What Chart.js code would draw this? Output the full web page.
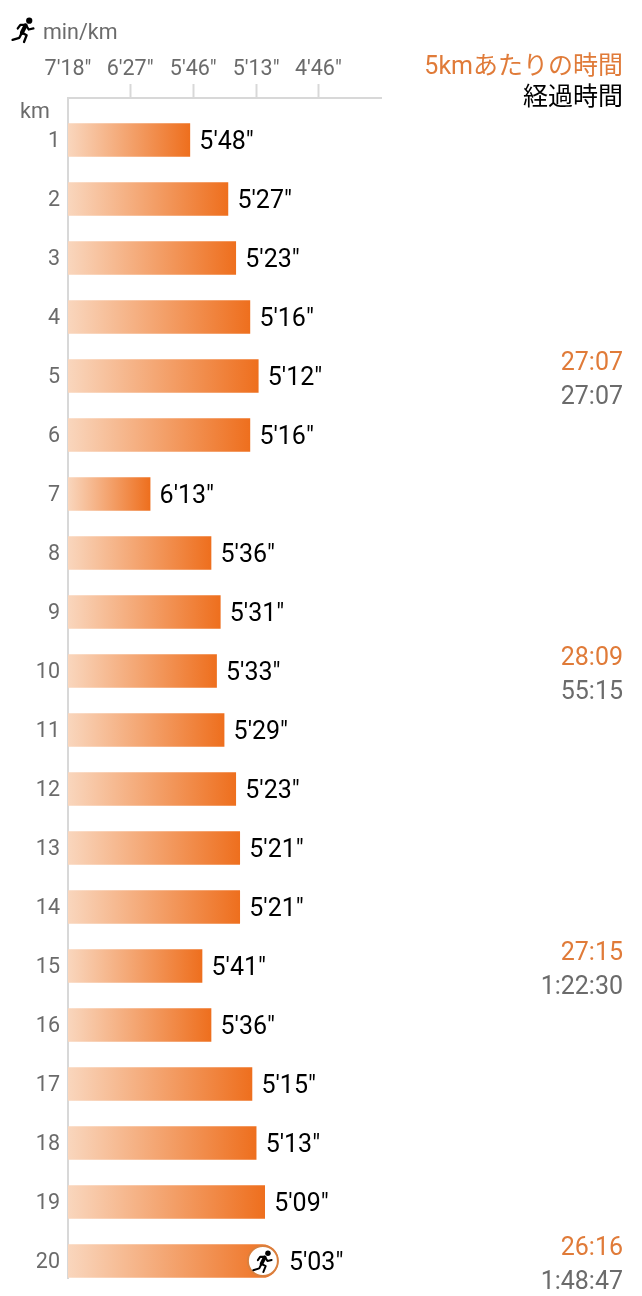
<!DOCTYPE html>
<html lang="ja">
<head>
<meta charset="utf-8">
<title>min/km</title>
<script src="https://cdn.jsdelivr.net/npm/chart.js@4"></script>
<style>
  html, body { margin: 0; padding: 0; background: #fff; }
  canvas { display: block; }
</style>
</head>
<body>
<canvas id="myChart" width="642" height="1296"></canvas>
<script>
const km_labels = [1, 2, 3, 4, 5, 6, 7, 8, 9, 10, 11, 12, 13, 14, 15, 16, 17, 18, 19, 20];
const pace_seconds = [348, 327, 323, 316, 312, 316, 373, 336, 331, 333, 329, 323, 321, 321, 341, 336, 315, 313, 309, 303];

const tick_seconds = [438, 387, 346, 313, 286];
const tick_labels = ["7'18\"", "6'27\"", "5'46\"", "5'13\"", "4'46\""];

const split_km = [5, 10, 15, 20];
const split_times = ['27:07', '28:09', '27:15', '26:16'];
const total_times = ['27:07', '55:15', '1:22:30', '1:48:47'];

const orange = '#e07b39';
const grey = '#6b6b6b';
const axis_grey = '#d8d8d8';
const font_family = 'Roboto, "Noto Sans CJK JP", sans-serif';

// the axis is linear in speed, not in pace
const to_speed = (seconds) => 1000 / seconds;

function format_pace(seconds) {
    const sec = seconds % 60;
    return Math.floor(seconds / 60) + "'" + (sec < 10 ? '0' : '') + sec + '"';
}

function draw_runner(ctx, x, y, size) {
    const s = size / 24;
    ctx.save();
    ctx.translate(x, y);
    ctx.scale(s, s);
    ctx.strokeStyle = '#000';
    ctx.fillStyle = '#000';
    ctx.lineCap = 'round';
    ctx.lineJoin = 'round';

    ctx.beginPath();
    ctx.arc(17.5, 3.5, 3, 0, Math.PI * 2);
    ctx.fill();

    ctx.lineWidth = 4;
    ctx.beginPath();
    ctx.moveTo(14, 8);
    ctx.lineTo(10.5, 15);
    ctx.stroke();

    ctx.lineWidth = 2.2;
    ctx.beginPath();
    ctx.moveTo(14, 7.5);
    ctx.lineTo(9, 7.5);
    ctx.lineTo(6.5, 11);
    ctx.moveTo(14.5, 8);
    ctx.lineTo(17, 12);
    ctx.lineTo(21.5, 11);
    ctx.moveTo(10.5, 15);
    ctx.lineTo(15, 17.5);
    ctx.lineTo(12.5, 24);
    ctx.moveTo(10.5, 15);
    ctx.lineTo(8, 20);
    ctx.lineTo(1.5, 22);
    ctx.stroke();
    ctx.restore();
}

const labels_plugin = {
    id: 'labels_plugin',
    afterDraw(chart) {
        const ctx = chart.ctx;
        const x_scale = chart.scales.x;
        const y_scale = chart.scales.y;
        ctx.save();

        // value labels at the bar ends
        ctx.font = '25px ' + font_family;
        ctx.fillStyle = '#000';
        ctx.textAlign = 'left';
        ctx.textBaseline = 'middle';
        pace_seconds.forEach((seconds, i) => {
            const last = i === pace_seconds.length - 1;
            const x = x_scale.getPixelForValue(to_speed(seconds)) + (last ? 11 : 9.5);
            ctx.fillText(format_pace(seconds), x, y_scale.getPixelForValue(km_labels[i]) + 3);
        });

        // marker on the last bar
        const last_index = pace_seconds.length - 1;
        const cx = x_scale.getPixelForValue(to_speed(pace_seconds[last_index])) - 15;
        const cy = y_scale.getPixelForValue(km_labels[last_index]);
        ctx.beginPath();
        ctx.arc(cx, cy, 15, 0, Math.PI * 2);
        ctx.fillStyle = '#fff';
        ctx.fill();
        ctx.lineWidth = 2;
        ctx.strokeStyle = '#d9803f';
        ctx.stroke();
        draw_runner(ctx, cx - 11, cy - 11, 22);

        // 5km splits on the right
        ctx.textAlign = 'right';
        ctx.font = '25px ' + font_family;
        split_km.forEach((km, i) => {
            const y = y_scale.getPixelForValue(km);
            ctx.fillStyle = orange;
            ctx.fillText(split_times[i], 623, y - 12);
            ctx.fillStyle = grey;
            ctx.fillText(total_times[i], 623, y + 22);
        });

        // headers
        ctx.font = '25px ' + font_family;
        ctx.fillStyle = orange;
        ctx.fillText('5kmあたりの時間', 623, 68);
        ctx.fillStyle = '#000';
        ctx.fillText('経過時間', 623, 99);

        ctx.textAlign = 'left';
        ctx.fillStyle = grey;
        ctx.font = '21.5px ' + font_family;
        ctx.fillText('min/km', 43, 34);
        ctx.fillText('km', 20, 113);
        draw_runner(ctx, 11, 17, 25);

        ctx.restore();
    }
};

const data = {
    datasets: [{
        data: pace_seconds.map((seconds, i) => ({ x: to_speed(seconds), y: km_labels[i] })),
        barThickness: 33,
        borderSkipped: false,
        borderRadius: (context) => context.dataIndex === pace_seconds.length - 1
            ? { topLeft: 0, bottomLeft: 0, topRight: 16, bottomRight: 16 } : 0,
        backgroundColor: (context) => {
            const { ctx, scales } = context.chart;
            const end = context.raw ? scales.x.getPixelForValue(context.raw.x) : NaN;
            // scales have no size yet on the first pass
            if (!isFinite(scales.x.left) || !isFinite(end)) return '#ee6f1e';
            const gradient = ctx.createLinearGradient(scales.x.left, 0, end, 0);
            gradient.addColorStop(0, '#f9d6bd');
            gradient.addColorStop(1, '#ee6f1e');
            return gradient;
        }
    }]
};

const options = {
    indexAxis: 'y',
    responsive: false,
    animation: false,
    layout: {
        padding: { left: 0, top: 0, right: 261, bottom: 18 }
    },
    scales: {
        x: {
            type: 'linear',
            position: 'top',
            min: to_speed(tick_seconds[0]),
            max: 3.8,
            afterBuildTicks: (scale) => {
                scale.ticks = tick_seconds.map((seconds) => ({ value: to_speed(seconds) }));
            },
            afterFit: (scale) => { scale.height = 98; },
            border: { color: axis_grey, width: 2 },
            grid: {
                drawOnChartArea: false,
                tickLength: 14,
                tickWidth: 2,
                tickColor: (context) => context.index === 0 ? 'rgba(0,0,0,0)' : axis_grey
            },
            ticks: {
                autoSkip: false,
                maxRotation: 0,
                padding: 1,
                color: grey,
                font: { family: font_family, size: 21.5 },
                callback: (value, index) => tick_labels[index]
            }
        },
        y: {
            type: 'linear',
            reverse: true,
            offset: false,
            min: 0.288,
            max: 20.288,
            afterBuildTicks: (scale) => {
                scale.ticks = km_labels.map((km) => ({ value: km }));
            },
            afterFit: (scale) => {
                scale.width = 68;
                // label margins would otherwise shrink the plot height
                scale.paddingTop = 0;
                scale.paddingBottom = 0;
            },
            border: { color: axis_grey, width: 2 },
            grid: { display: true, offset: false, drawOnChartArea: false, drawTicks: false },
            ticks: {
                autoSkip: false,
                padding: 8,
                labelOffset: 2,
                color: grey,
                font: { family: font_family, size: 21.5 },
                callback: (value) => value
            }
        }
    },
    plugins: {
        legend: { display: false },
        tooltip: { enabled: false }
    }
};

const chart = new Chart(document.getElementById('myChart'), {
    type: 'bar',
    data: data,
    options: options,
    plugins: [labels_plugin]
});
</script>
</body>
</html>
